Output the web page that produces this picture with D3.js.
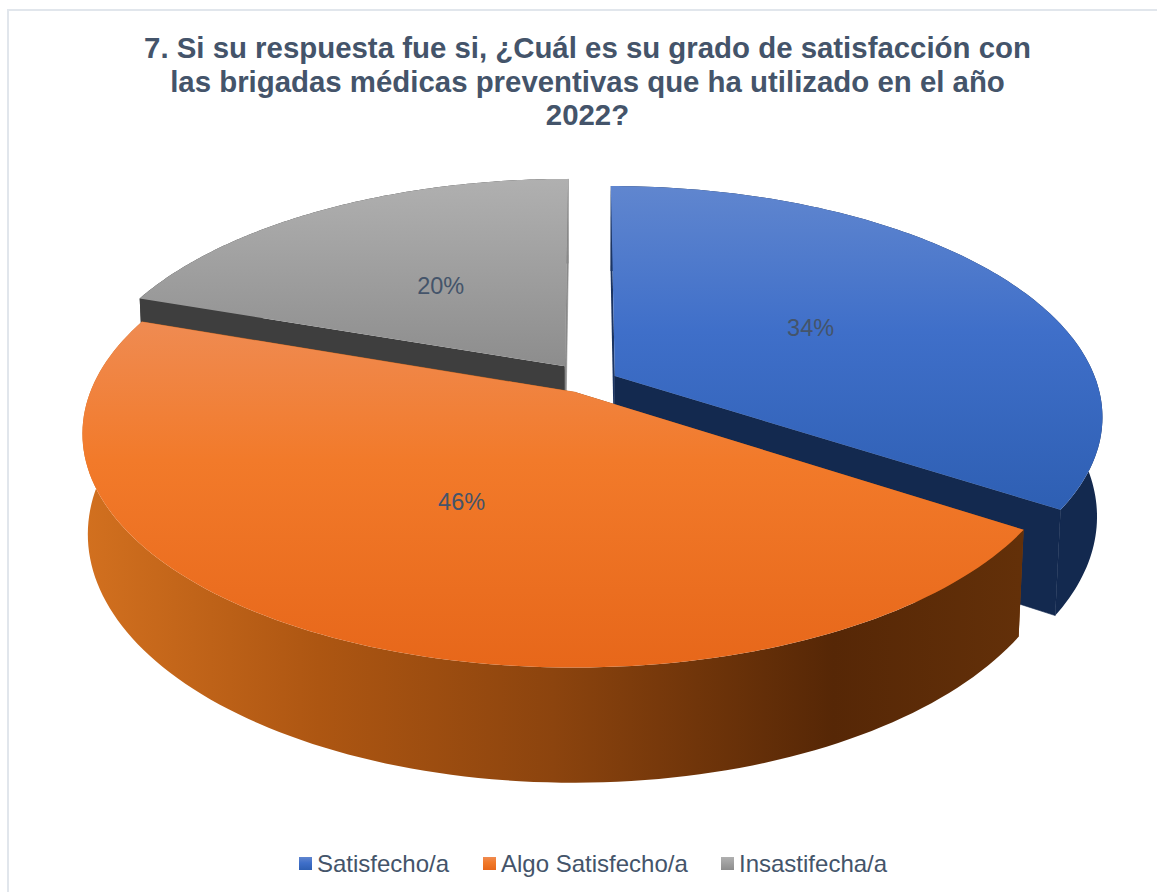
<!DOCTYPE html>
<html><head><meta charset="utf-8">
<script src="https://cdnjs.cloudflare.com/ajax/libs/d3/7.8.5/d3.min.js"></script>
<style>html,body{margin:0;padding:0;background:#fff;overflow:hidden}svg{display:block}text{font-family:"Liberation Sans",Arial,sans-serif;fill:#44546a}</style>
</head><body><svg id="c" width="1157" height="892"></svg>
<script>
const categories = ["Satisfecho/a", "Algo Satisfecho/a", "Insastifecha/a"];
const values = [34.2, 46.1, 19.7];
const titleLines = ["7. Si su respuesta fue si, ¿Cuál es su grado de satisfacción con",
  "las brigadas médicas preventivas que ha utilizado en el año", "2022?"];
const topStops = [
  [[0,"#6086cf"],[0.45,"#3f6fc9"],[1,"#2e5fb3"]],
  [[0,"#ef8b52"],[0.4,"#f27a2a"],[1,"#e7671a"]],
  [[0,"#b0b0b0"],[1,"#8d8d8d"]]
];
const outerColors = ["#13294f", null, "#3e3e3e"];
const startWallColors = ["#1b3462", "#8a440e", "#3e3e3e"];
const endWallColors = ["#13294f", "#c9661c", "#8a8a8a"];
const orangeWallStops = [[0,"#d2701f"],[0.25,"#ad5612"],[0.5,"#8c440e"],[0.8,"#562706"],[1,"#633009"]];
const labelRadius = [0.485, 0.49, 0.485];
const sliceShiftX = [0, 0.006, -0.008];
const sliceShiftY = [-0.018, 0, 0.004];

const svg = d3.select("#c");
const defs = svg.append("defs");
// camera
const cam = {cx:587, cy:379, f:2500, d:5.2, e:27.67*Math.PI/180, zPersp:0.5};
const h = 0.2315, explode = 0.066;
const s = Math.sin(cam.e), c = Math.cos(cam.e);
function project(x,y,z){
  const depth = cam.d + y*c - z*s*cam.zPersp;
  const v = y*s + z*c;
  return [cam.cx + cam.f*x/depth, cam.cy - cam.f*v/depth];
}
const line = d3.line();
const pie = d3.pie().sort(null).value(d=>d);
const arcs = pie(values);

svg.append("rect").attr("x",8).attr("y",10).attr("width",1180).attr("height",920)
  .attr("fill","#fff").attr("stroke","#e1e6ec").attr("stroke-width",2);

topStops.forEach((st,i)=>{
  const g = defs.append("linearGradient").attr("id","top"+i).attr("x1",0).attr("y1",0).attr("x2",0).attr("y2",1);
  st.forEach(p=>g.append("stop").attr("offset",p[0]).attr("stop-color",p[1]));
});
const ow = defs.append("linearGradient").attr("id","orangeWall").attr("gradientUnits","userSpaceOnUse")
  .attr("x1",85).attr("y1",0).attr("x2",1020).attr("y2",0);
orangeWallStops.forEach(p=>ow.append("stop").attr("offset",p[0]).attr("stop-color",p[1]));

function rim(a,ox,oy,z){
  return d3.range(0,121).map(k=>{
    const t = a.startAngle + (a.endAngle-a.startAngle)*k/120;
    return project(ox+Math.sin(t), oy+Math.cos(t), z);
  });
}
const geo = arcs.map((a,i)=>{
  const mid=(a.startAngle+a.endAngle)/2;
  return {a, mid, ox:explode*Math.sin(mid)+sliceShiftX[i], oy:explode*Math.cos(mid)+sliceShiftY[i]};
});
[2,0,1].forEach(i=>{
  const {a,ox,oy}=geo[i];
  const topR=rim(a,ox,oy,0), botR=rim(a,ox,oy,-h);
  const A0=project(ox,oy,0), A1=project(ox,oy,-h);
  const g=svg.append("g");
  const drawOuter=()=>g.append("path").attr("d",line(topR.concat(botR.slice().reverse()))+"Z")
    .attr("fill",i===1?"url(#orangeWall)":outerColors[i]);
  const drawWalls=()=>{
    g.append("path").attr("d",line([A0,topR[0],botR[0],A1])+"Z").attr("fill",startWallColors[i]);
    g.append("path").attr("d",line([A0,topR[120],botR[120],A1])+"Z").attr("fill",endWallColors[i])
      .attr("stroke",endWallColors[i]).attr("stroke-width",0.6);
  };
  if(i===1){drawWalls();drawOuter();}else{drawOuter();drawWalls();}
  g.append("path").attr("d",line([A0].concat(topR))+"Z").attr("fill","url(#top"+i+")");
});
// labels
geo.forEach(({a,ox,oy,mid},i)=>{
  const p=project(ox+labelRadius[i]*Math.sin(mid), oy+labelRadius[i]*Math.cos(mid),0);
  svg.append("text").attr("x",p[0]).attr("y",p[1]+9).attr("text-anchor","middle").attr("font-size",23.5).text(Math.round(a.data)+"%");
});
// title
svg.selectAll("text.t").data(titleLines).join("text").attr("class","t")
  .attr("x",587.5).attr("y",(d,i)=>58+i*33.5).attr("text-anchor","middle")
  .attr("font-size",29.4).attr("font-weight","bold").text(d=>d);
// legend
const legendX=[299,483,721], legendY=857;
categories.forEach((n,i)=>{
  svg.append("rect").attr("x",legendX[i]).attr("y",legendY).attr("width",13).attr("height",13).attr("fill","url(#top"+i+")");
  svg.append("text").attr("x",legendX[i]+18).attr("y",872).attr("font-size",24).text(n);
});
</script></body></html>
